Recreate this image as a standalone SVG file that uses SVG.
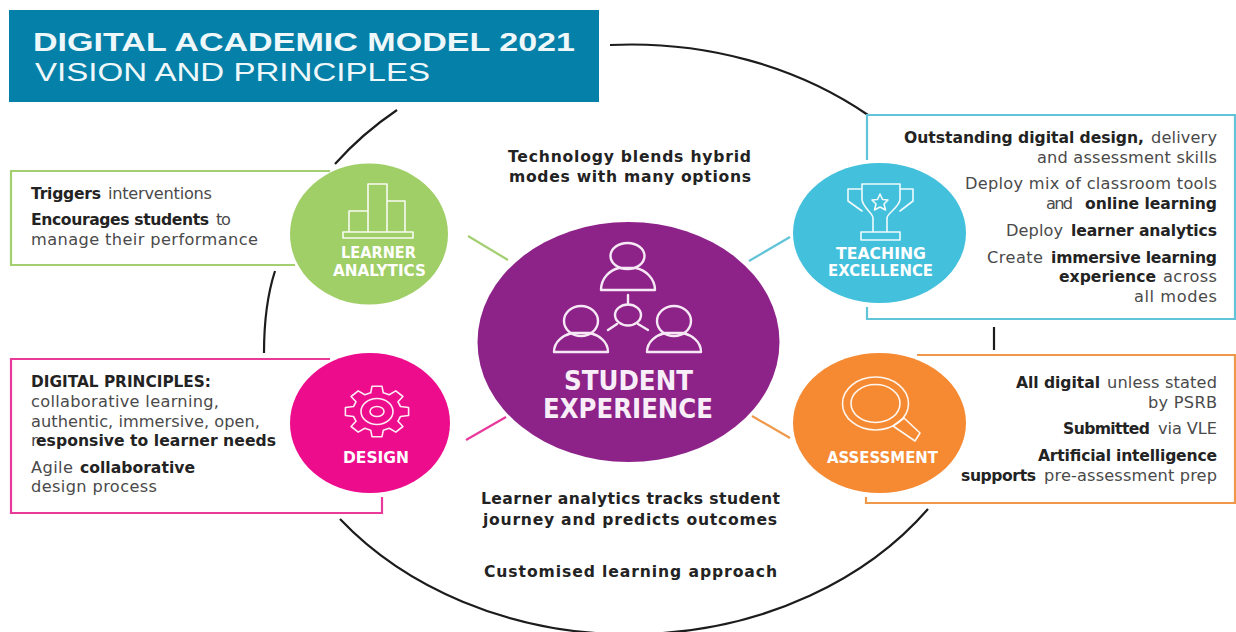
<svg xmlns="http://www.w3.org/2000/svg" width="1236" height="632" viewBox="0 0 1236 632">
<style>
text{font-family:"DejaVu Sans","Liberation Sans",sans-serif}
.r{font-size:16.2px;fill:#4a4a4a;font-weight:400}
.b{font-size:15.6px;fill:#232323;font-weight:700}
.c{font-size:15px;fill:#fff;font-weight:700}
.s{font-size:26px;fill:#f8eef7;font-weight:700}
.t{font-family:"Liberation Sans",sans-serif;font-size:26.5px;fill:#eef8fb}
.ic{fill:none;stroke:#fff;stroke-width:1.6;stroke-linejoin:round;stroke-linecap:round;opacity:.92}
.ics{fill:none;stroke:#f6e9f5;stroke-width:2.4;stroke-linejoin:round;stroke-linecap:round}
.arc{fill:none;stroke:#1c1c1c;stroke-width:2.2;stroke-linecap:butt}
.box{fill:none;stroke-width:2.2}
.link{fill:none;stroke-width:2.2}
.g{stroke:#a4cf70}.bl{stroke:#62c4d8}.p{stroke:#e93a9c}.o{stroke:#f0984a}
</style>
<rect width="1236" height="632" fill="#fff"/>
<g id="connectors">
<path class="arc" d="M610,45 A365,295 0 0 1 868,115"/>
<path class="arc" d="M335,164 A365,295 0 0 1 397,110"/>
<path class="arc" d="M275,271 Q264,305 264,353"/>
<path class="arc" d="M994,327 V350"/>
<path class="arc" d="M340,519 A365,295 0 0 0 928,509"/>
<path class="link g" d="M468,236 L508,260"/>
<path class="link bl" d="M749,261 L790,237"/>
<path class="link p" d="M466,440 L506,417"/>
<path class="link o" d="M752,416 L790,438"/>
</g>
<g id="header">
<rect x="9" y="10" width="590" height="92" fill="#0580a8"/>
<text class="t" x="33" y="51" font-weight="700" textLength="542" lengthAdjust="spacingAndGlyphs">DIGITAL ACADEMIC MODEL 2021</text>
<text class="t" x="35" y="81" font-weight="400" textLength="395" lengthAdjust="spacingAndGlyphs">VISION AND PRINCIPLES</text>
</g>
<g id="center-text-top">
<text class="b" x="508" y="162" textLength="243">Technology blends hybrid</text>
<text class="b" x="509" y="182" textLength="242">modes with many options</text>
</g>
<g id="center-text-bottom">
<text class="b" x="481" y="504" textLength="299">Learner analytics tracks student</text>
<text class="b" x="483" y="525" textLength="294">journey and predicts outcomes</text>
<text class="b" x="484" y="577" textLength="293">Customised learning approach</text>
</g>
<g id="student-experience">
<ellipse cx="628.5" cy="342" rx="151" ry="120" fill="#8d2389"/>
<ellipse class="ics" cx="627.5" cy="256" rx="17" ry="13"/>
<path class="ics" d="M601,290 H655 C655,278 645,270 636,268 H619 C610,270 601,278 601,290 Z"/>
<ellipse class="ics" cx="581" cy="321" rx="17" ry="15"/>
<path class="ics" d="M554,352 H608 C608,341 598,335 590,333 H572 C564,335 554,341 554,352 Z"/>
<ellipse class="ics" cx="674" cy="321" rx="17" ry="15"/>
<path class="ics" d="M647,352 H701 C701,341 691,335 683,333 H665 C657,335 647,341 647,352 Z"/>
<ellipse class="ics" cx="628" cy="315" rx="13" ry="10.5"/>
<path class="ics" d="M628,295 V304 M608,330 L617,324 M648,330 L638,324"/>
<text class="s" x="564" y="390" textLength="129" lengthAdjust="spacingAndGlyphs">STUDENT</text>
<text class="s" x="543" y="418" textLength="170" lengthAdjust="spacingAndGlyphs">EXPERIENCE</text>
</g>
<g id="learner-analytics">
<path class="box g" d="M330,171 H11 V265 H295"/>
<ellipse cx="369" cy="234" rx="79" ry="70.5" fill="#a0ce67"/>
<path class="ic" d="M343,232 H413 V238 H343 Z M349,232 V211 H368 V232 M368,211 V184 H387 V232 M387,201 H405 V232"/>
<text class="c" x="341" y="258" textLength="75" lengthAdjust="spacingAndGlyphs">LEARNER</text>
<text class="c" x="333" y="276" textLength="93" lengthAdjust="spacingAndGlyphs">ANALYTICS</text>
<text class="b" x="31" y="199" textLength="70">Triggers</text>
<text class="r" x="108" y="199" textLength="104">interventions</text>
<text class="b" x="31" y="225" textLength="178">Encourages students</text>
<text class="r" x="216" y="225" textLength="15">to</text>
<text class="r" x="31" y="245" textLength="227">manage their performance</text>
</g>
<g id="design">
<path class="box p" d="M330,359 H11 V513 H382 V497"/>
<ellipse cx="370" cy="423" rx="80" ry="70" fill="#ec0c8c"/>
<g transform="translate(377,411.5)">
<path class="ic" d="M23.5,-5 L31.6,-4 31.6,4 23.5,5 21,9.7 25.9,15 18.8,20.6 12.2,16.8 6.3,18.7 5,25.2 -5,25.2 -6.3,18.7 -12.2,16.8 -18.8,20.6 -25.9,15 -21,9.7 -23.5,5 -31.6,4 -31.6,-4 -23.5,-5 -21,-9.7 -25.9,-15 -18.8,-20.6 -12.2,-16.8 -6.3,-18.7 -5,-25.2 5,-25.2 6.3,-18.7 12.2,-16.8 18.8,-20.6 25.9,-15 21,-9.7 Z"/>
<ellipse class="ic" rx="16" ry="13"/>
<ellipse class="ic" rx="7" ry="5"/>
</g>
<text class="c" x="343" y="463" textLength="66" lengthAdjust="spacingAndGlyphs">DESIGN</text>
<text class="b" x="31" y="387" textLength="180" lengthAdjust="spacingAndGlyphs">DIGITAL PRINCIPLES:</text>
<text class="r" x="31" y="407" textLength="188">collaborative learning,</text>
<text class="r" x="31" y="427" textLength="229">authentic, immersive, open,</text>
<text class="r" x="31" y="446">r</text>
<text class="b" x="36" y="446" textLength="240">esponsive to learner needs</text>
<text class="r" x="31" y="473" textLength="42">Agile</text>
<text class="b" x="80" y="473" textLength="115">collaborative</text>
<text class="r" x="31" y="492" textLength="126">design process</text>
</g>
<g id="teaching-excellence">
<path class="box bl" d="M867,160 V115 H1235 V319 H867 V307"/>
<ellipse cx="879.5" cy="233" rx="86.5" ry="70" fill="#43c0dc"/>
<path class="ic" d="M862,184 H900 V199 C900,207 887,213 887,218 V232 H873 V218 C873,213 862,207 862,199 Z M862,189 H848 V201 L862,211 M900,189 H913 V201 L900,211 M861,232 H900 V240 H861 Z"/>
<path class="ic" d="M880,194 L882.5,199.5 888,200 884,204 885.5,210 880,207 874.5,210 876,204 872,200 877.500,199.500 Z"/>
<text class="c" x="836" y="259" textLength="90" lengthAdjust="spacingAndGlyphs">TEACHING</text>
<text class="c" x="828" y="276" textLength="105" lengthAdjust="spacingAndGlyphs">EXCELLENCE</text>
<text class="b" x="904" y="143" textLength="240">Outstanding digital design,</text>
<text class="r" x="1151" y="143" textLength="66">delivery</text>
<text class="r" x="1037" y="163" textLength="180">and assessment skills</text>
<text class="r" x="965" y="189" textLength="252">Deploy mix of classroom tools</text>
<text class="r" x="1046" y="209" textLength="27">and</text>
<text class="b" x="1085" y="209" textLength="132">online learning</text>
<text class="r" x="1006" y="236" textLength="57">Deploy</text>
<text class="b" x="1071" y="236" textLength="146">learner analytics</text>
<text class="r" x="987" y="263" textLength="56">Create</text>
<text class="b" x="1051" y="263" textLength="166">immersive learning</text>
<text class="b" x="1059" y="282" textLength="97">experience</text>
<text class="r" x="1163" y="282" textLength="54">across</text>
<text class="r" x="1134" y="302" textLength="83">all modes</text>
</g>
<g id="assessment">
<path class="box o" d="M917,355 H1235 V503 H866 V497"/>
<ellipse cx="879.500" cy="423" rx="86.500" ry="70" fill="#f58a33"/>
<ellipse class="ic" cx="875.500" cy="403.500" rx="33" ry="26.500"/>
<ellipse class="ic" cx="875.500" cy="403.500" rx="24.500" ry="19"/>
<path class="ic" d="M893,426 L904,418 920,433 915,441 Z"/>
<text class="c" x="827" y="463" textLength="111" lengthAdjust="spacingAndGlyphs">ASSESSMENT</text>
<text class="b" x="1016" y="388" textLength="84">All digital</text>
<text class="r" x="1107" y="388" textLength="110">unless stated</text>
<text class="r" x="1148" y="408" textLength="69">by PSRB</text>
<text class="b" x="1063" y="434" textLength="87">Submitted</text>
<text class="r" x="1158" y="434" textLength="59">via VLE</text>
<text class="b" x="1038" y="461" textLength="179">Artificial intelligence</text>
<text class="b" x="961" y="481" textLength="75">supports</text>
<text class="r" x="1044" y="481" textLength="173">pre-assessment prep</text>
</g>
</svg>
